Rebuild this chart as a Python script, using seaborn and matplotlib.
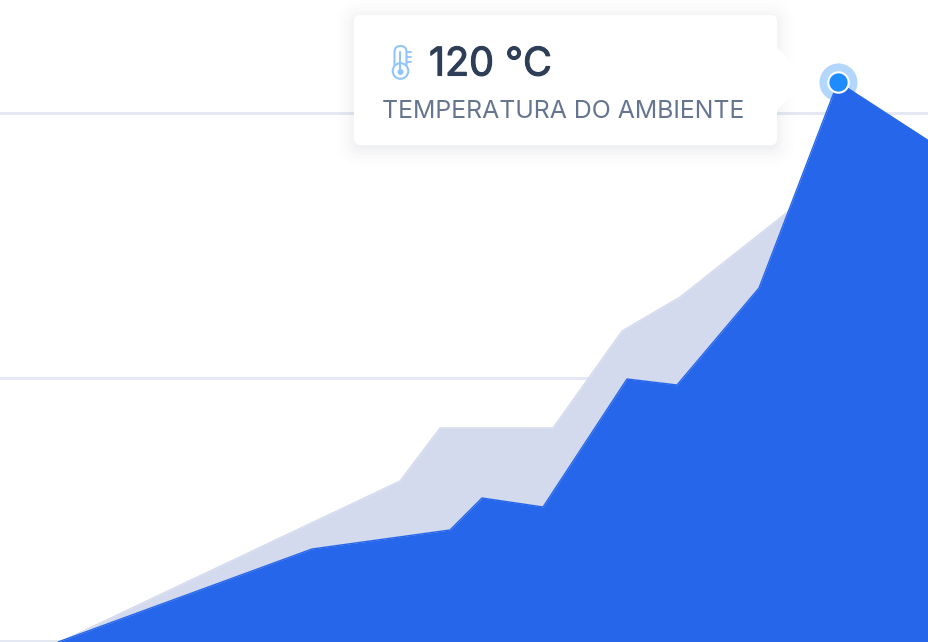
import matplotlib
matplotlib.use("Agg")
import matplotlib.pyplot as plt
import matplotlib.patheffects as pe
import seaborn as sns
import pandas as pd
from matplotlib.patches import FancyBboxPatch, Circle, Polygon

# values
back_x = [60, 400, 440, 553, 622, 680, 790, 838, 929]
back_y = [0, 161, 214, 214, 311, 345, 432, 500, 501]
front_x = [58, 312, 450, 482, 543, 627, 677, 759, 838, 929]
front_y = [0, 93, 112, 144, 135, 263, 257, 354, 560, 501]
grid_values = [1, 264, 529]
peak_x, peak_y = 838, 560
value_label = "120 °C"
caption = "TEMPERATURA DO AMBIENTE"

BLUE = "#2566EA"
GREY = "#D4DAEE"
LINE = "#E3E8F2"

sns.set_theme(style="white")
plt.rcParams["font.family"] = ["Inter", "DejaVu Sans"]

fig = plt.figure(figsize=(9.29, 6.42), dpi=100)
ax = fig.add_axes([0, 0, 1, 1])
ax.set_xlim(0, 929)
ax.set_ylim(0, 642)

ax.set_yticks(grid_values)
ax.set_xticks([])
ax.tick_params(left=False, labelleft=False)
ax.grid(True, axis="y", color=LINE, linewidth=2.2)
ax.set_axisbelow(True)
sns.despine(ax=ax, left=True, bottom=True)

back = pd.DataFrame({"x": back_x, "y": back_y})
front = pd.DataFrame({"x": front_x, "y": front_y})

ax.fill_between(back["x"], 0, back["y"], color=GREY, linewidth=0, zorder=2)
sns.lineplot(data=back, x="x", y="y", color=GREY, linewidth=1.0, alpha=1, ax=ax, zorder=2)
# halo sits behind the blue area
sns.scatterplot(x=[peak_x], y=[peak_y], s=750, color="#B3D6FB", linewidth=0, ax=ax, zorder=2.5)
ax.fill_between(front["x"], 0, front["y"], color=BLUE, linewidth=0, zorder=3)
sns.lineplot(data=front, x="x", y="y", color=BLUE, linewidth=1.0, alpha=1, ax=ax, zorder=3)
ax.set_xlabel("")
ax.set_ylabel("")
ax.set_xlim(0, 929)
ax.set_ylim(0, 642)

sns.scatterplot(x=[peak_x], y=[peak_y], s=215, color="#1E8CFF", edgecolor="white", linewidth=1.5, ax=ax, zorder=5)

# tooltip shadow, then the card and its pointer
for grow, alpha in [(20, 0.005), (16, 0.006), (12, 0.008), (8, 0.010), (5, 0.012), (2, 0.016)]:
    ax.add_patch(FancyBboxPatch((356 - grow, 495 - grow), 419 + 2 * grow, 128 + 2 * grow,
                                boxstyle="round,pad=0,rounding_size=%d" % (6 + grow),
                                fc="#33415C", ec="none", alpha=alpha, zorder=6))
ax.add_patch(FancyBboxPatch((354, 497), 423, 130, boxstyle="round,pad=0,rounding_size=6",
                            fc="white", ec="none", zorder=7))
ax.add_patch(Polygon([(776, 595), (810, 563), (776, 531)], fc="white", ec="none", zorder=7))

# thermometer icon
ICON = "#90C5FB"
ax.add_patch(FancyBboxPatch((394.5, 572), 12, 24, boxstyle="round,pad=0,rounding_size=6",
                            fc="none", ec=ICON, lw=1.5, zorder=8))
ax.add_patch(Circle((400.5, 571), 7.8, fc="white", ec=ICON, lw=1.5, zorder=8))
ax.plot([400.5, 400.5], [572, 590], color=ICON, lw=1.5, zorder=9)
ax.add_patch(Circle((400.5, 570), 3, fc=ICON, ec="none", zorder=9))
for tick_y in [590, 585, 580]:
    ax.plot([407, 411], [tick_y, tick_y], color=ICON, lw=1.3, zorder=8)

ax.text(429, 577, value_label, fontsize=28.4, color="#2D3E56", ha="left", va="center", zorder=8,
        path_effects=[pe.withStroke(linewidth=0.8, foreground="#2D3E56")])
ax.text(382, 531, caption, fontsize=17.9, color="#66758F", ha="left", va="center", zorder=8)

fig.savefig("out.png", dpi=100)
